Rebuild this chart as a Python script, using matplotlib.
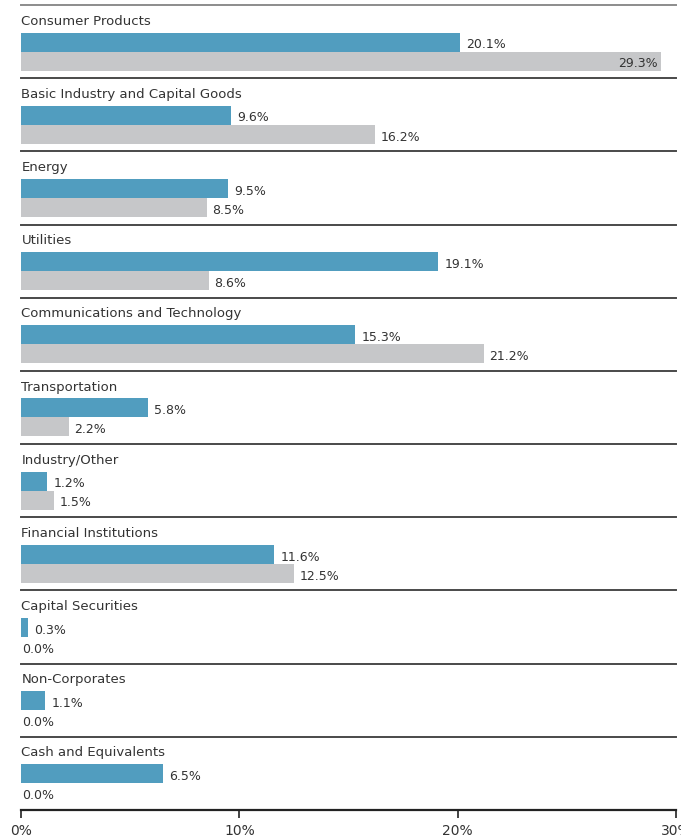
import matplotlib.pyplot as plt

categories = ['Consumer Products', 'Basic Industry and Capital Goods', 'Energy',
              'Utilities', 'Communications and Technology', 'Transportation',
              'Industry/Other', 'Financial Institutions', 'Capital Securities',
              'Non-Corporates', 'Cash and Equivalents']
fund = [20.1, 9.6, 9.5, 19.1, 15.3, 5.8, 1.2, 11.6, 0.3, 1.1, 6.5]
index = [29.3, 16.2, 8.5, 8.6, 21.2, 2.2, 1.5, 12.5, 0.0, 0.0, 0.0]
ticks = [0, 10, 20, 30]
tick_labels = ['0%', '10%', '20%', '30%']

blue = '#519dbf'
grey = '#c6c7c9'
txt = '#333333'

plt.rcParams['font.family'] = ['DejaVu Sans']

fig = plt.figure(figsize=(6.81, 8.35), dpi=100)
# 0% at x=21px, 30% at x=676px; groups from y=5px down to axis at y=810px
ax = fig.add_axes([21 / 681, 25 / 835, 655 / 681, 805 / 835])
ax.set_xlim(0, 30)
ax.set_ylim(len(categories), 0)

bh = 0.26
for i, cat in enumerate(categories):
    y_top = i
    # separator line
    col = '#8c8c8c' if i == 0 else '#4a4a4a'
    ax.plot([0, 30], [y_top, y_top], color=col, lw=1.4, clip_on=False, zorder=3)
    ax.text(0.02, y_top + 0.22, cat, fontsize=9.5, color=txt, va='center', ha='left')

    yb = y_top + 0.376 + bh / 2
    yg = yb + bh
    ax.barh(yb, fund[i], height=bh, color=blue, align='center', zorder=2)
    ax.barh(yg, index[i], height=bh, color=grey, align='center', zorder=2)

    ax.annotate('%.1f%%' % fund[i], (fund[i], yb), xytext=(4.5, -2),
                textcoords='offset points', fontsize=9, color=txt,
                va='center', ha='left')
    if index[i] + 3 > 30:
        ax.annotate('%.1f%%' % index[i], (index[i], yg), xytext=(-2, -2),
                    textcoords='offset points', fontsize=9, color=txt,
                    va='center', ha='right')
    else:
        off = 1 if index[i] == 0 else 4
        ax.annotate('%.1f%%' % index[i], (index[i], yg), xytext=(off, -2),
                    textcoords='offset points', fontsize=9, color=txt,
                    va='center', ha='left')

for s in ['top', 'right', 'left']:
    ax.spines[s].set_visible(False)
ax.spines['bottom'].set_linewidth(1.6)
ax.spines['bottom'].set_color('#222222')
ax.set_yticks([])
ax.set_xticks(ticks)
ax.set_xticklabels(tick_labels, fontsize=10, color=txt)
ax.tick_params(axis='x', length=6, width=1.2, pad=4, colors='#222222', labelcolor=txt)

fig.savefig('out.png', dpi=100)
